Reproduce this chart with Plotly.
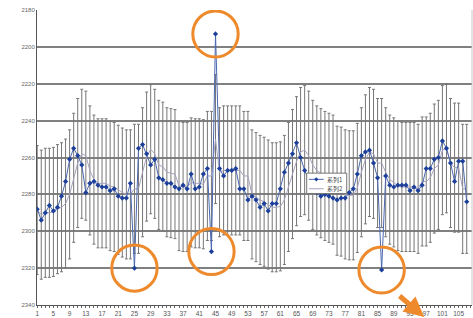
import plotly.graph_objects as go

categories = list(range(1, 108))

series1 = [2288, 2294, 2290, 2286, 2289, 2287, 2281, 2273, 2261, 2255,
           2259, 2264, 2279, 2274, 2273, 2275, 2276, 2276, 2278, 2277,
           2281, 2282, 2282, 2274, 2320, 2255, 2253, 2258, 2264, 2261,
           2271, 2272, 2274, 2274, 2276, 2277, 2275, 2277, 2269, 2277,
           2276, 2269, 2266, 2311, 2193, 2266, 2270, 2267, 2267, 2266,
           2277, 2277, 2283, 2281, 2283, 2287, 2285, 2289, 2285, 2285,
           2277, 2268, 2263, 2258, 2252, 2260, 2267, 2272, 2276, 2279,
           2281, 2280, 2281, 2282, 2283, 2282, 2282, 2279, 2277, 2269,
           2259, 2257, 2256, 2263, 2271, 2321, 2270, 2275, 2276, 2275,
           2275, 2275, 2278, 2276, 2278, 2275, 2266, 2266, 2261, 2260,
           2251, 2255, 2263, 2273, 2262, 2262, 2284]

series2 = [2288.5, 2291, 2290, 2290, 2289.5, 2288, 2287, 2285, 2280, 2271,
           2263, 2258, 2259, 2267, 2272, 2274, 2274, 2274, 2275.5, 2276,
           2277.5, 2279, 2280, 2280, 2277, 2277, 2268, 2259.5, 2255.5, 2258,
           2264, 2265, 2268, 2268.5, 2269, 2275.5, 2276, 2276, 2273.5, 2274,
           2274, 2274.5, 2270, 2270, 2250, 2268, 2267, 2267, 2267, 2267,
           2267, 2270, 2270, 2280, 2281.5, 2283, 2284, 2285.5, 2287, 2287,
           2286.5, 2283, 2276, 2269, 2262, 2257, 2256, 2259, 2264, 2267,
           2268.5, 2270, 2271, 2272, 2278, 2278.5, 2280, 2280.5, 2280.5, 2276.5,
           2268, 2261, 2257, 2258, 2263, 2263, 2268, 2272, 2273.5, 2275.5,
           2276, 2276, 2276, 2276, 2277, 2273, 2273, 2271, 2266, 2264,
           2256, 2255, 2263, 2265.5, 2265.5, 2277, 2277]

band_halfwidth = 35
outlier_categories = [25, 44, 45, 86]

y_tickvals = [2180, 2200, 2220, 2240, 2260, 2280, 2300, 2320, 2340]
x_tickvals = list(range(1, 108, 4))

names = ["系列1", "系列2"]

S1_COLOR = "#4a68b0"
S1_MARKER = "#1c3f9a"
S2_COLOR = "#a7a3bd"
ORANGE = "#ee8a2c"

fig = go.Figure()

fig.add_trace(go.Scatter(
    x=categories, y=series2, mode="lines", name=names[1], showlegend=False,
    line=dict(color=S2_COLOR, width=1),
    error_y=dict(type="constant", value=band_halfwidth, color="#767676",
                 thickness=1, width=1.5),
))
fig.add_trace(go.Scatter(
    x=categories, y=series1, mode="lines+markers", name=names[0], showlegend=False,
    line=dict(color=S1_COLOR, width=1),
    marker=dict(symbol="diamond", size=4, color=S1_MARKER),
))

# orange highlight circles around the outliers
for c in outlier_categories:
    v = series1[categories.index(c)]
    fig.add_shape(type="circle", xref="x", yref="y",
                  x0=c - 5.6, x1=c + 5.6, y0=v - 12.5, y1=v + 12.5,
                  line=dict(color=ORANGE, width=3), layer="above")

fig.add_annotation(xref="paper", yref="paper", x=0.89, y=-0.06, text="",
                   showarrow=True, ax=-26, ay=-28, arrowcolor=ORANGE,
                   arrowwidth=5, arrowhead=2, arrowsize=0.8)

# right border
fig.add_shape(type="line", xref="paper", yref="paper", x0=1, x1=1, y0=0, y1=1,
              line=dict(color="#c8c8c8", width=1))

# compact legend box (Excel style)
lx0, lx1, ly0, ly1 = 0.620, 0.712, 0.378, 0.447
row_y = [0.426, 0.394]
fig.add_shape(type="rect", xref="paper", yref="paper", x0=lx0, x1=lx1, y0=ly0, y1=ly1,
              line=dict(color="#777777", width=1), fillcolor="white", layer="above")
fig.add_shape(type="line", xref="paper", yref="paper", x0=0.625, x1=0.659,
              y0=row_y[0], y1=row_y[0], line=dict(color=S1_COLOR, width=1), layer="above")
dx, dy, cx = 0.0048, 0.0070, 0.642
fig.add_shape(type="path", xref="paper", yref="paper",
              path=f"M {cx},{row_y[0]-dy} L {cx+dx},{row_y[0]} L {cx},{row_y[0]+dy} L {cx-dx},{row_y[0]} Z",
              fillcolor=S1_MARKER, line=dict(color=S1_MARKER, width=0), layer="above")
fig.add_shape(type="line", xref="paper", yref="paper", x0=0.625, x1=0.659,
              y0=row_y[1], y1=row_y[1], line=dict(color=S2_COLOR, width=1), layer="above")
for name, ry in zip(names, row_y):
    fig.add_annotation(xref="paper", yref="paper", x=0.662, y=ry, text=name,
                       showarrow=False, xanchor="left", yanchor="middle",
                       font=dict(size=6, color="#444444", family="Noto Sans CJK SC"))

fig.update_layout(
    width=473, height=318,
    margin=dict(l=37, r=1, t=10, b=13, autoexpand=False),
    paper_bgcolor="white", plot_bgcolor="white",
    font=dict(family="Liberation Sans, Noto Sans CJK SC", size=7, color="#555555"),
    showlegend=False,
    xaxis=dict(range=[0.95, 108.3], tickmode="array", tickvals=x_tickvals,
               ticktext=[str(v) for v in x_tickvals],
               showgrid=False, zeroline=False, automargin=False,
               showline=True, linecolor="#555555", linewidth=1,
               ticks="outside", ticklen=2, tickcolor="#666666",
               minor=dict(ticks="outside", ticklen=2, dtick=1, tick0=1, tickcolor="#666666"),
               tickfont=dict(size=6.5, color="#555555")),
    yaxis=dict(range=[2340, 2180], tickmode="array", tickvals=y_tickvals,
               ticktext=[str(v) for v in y_tickvals],
               showgrid=True, gridcolor="#808080", gridwidth=1.5, automargin=False,
               zeroline=False, showline=True, linecolor="#555555", linewidth=1,
               ticks="", tickfont=dict(size=6, color="#666666")),
)

fig.write_html("out.html", config={"displayModeBar": False},
               post_script="document.body.style.margin='0';document.body.style.overflow='hidden';")
